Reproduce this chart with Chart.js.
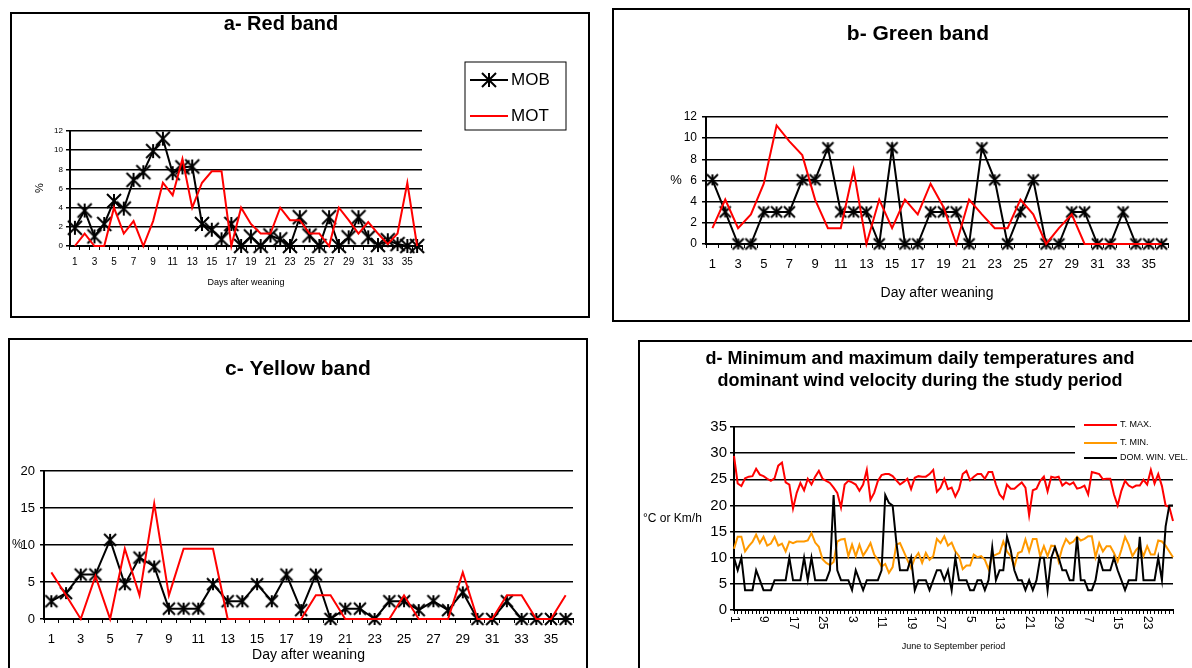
<!DOCTYPE html>
<html lang="en">
<head>
<meta charset="UTF-8" />
<title>Weaning bands and temperatures</title>
<style>
  body {
    margin: 0;
    background: #fff;
    width: 1192px;
    height: 668px;
    overflow: hidden;
    position: relative;
  }
  .panel {
    position: absolute;
    border: 2px solid #000;
    background: #fff;
    overflow: hidden;
  }
  .panel canvas {
    position: absolute;
    left: 0;
    top: 0;
  }
</style>
</head>
<body>
  <div class="panel" style="left:10px;top:12px;width:576px;height:302px"><canvas id="chartA" width="576" height="302"></canvas></div>
  <div class="panel" style="left:612px;top:8px;width:574px;height:310px"><canvas id="chartB" width="574" height="310"></canvas></div>
  <div class="panel" style="left:8px;top:338px;width:576px;height:340px"><canvas id="chartC" width="576" height="330"></canvas></div>
  <div class="panel" style="left:638px;top:340px;width:560px;height:340px"><canvas id="chartD" width="552" height="326"></canvas></div>

  <script src="https://cdn.jsdelivr.net/npm/chart.js"></script>
  <script>
    // days after weaning (panels a-c)
    const days = Array.from({ length: 36 }, (_, i) => String(i + 1));

    const mobRed = [1.9, 3.7, 1.0, 2.3, 4.7, 3.9, 6.9, 7.7, 9.9, 11.2, 7.6, 8.2, 8.3, 2.3, 1.7, 0.7, 2.3, 0, 1.0, 0,
                    1.1, 0.7, 0, 3.0, 1.1, 0, 3.0, 0, 0.9, 3.0, 0.9, 0.1, 0.6, 0.2, 0, 0];
    const motRed = [0, 1.3, 0, 0, 4.0, 1.3, 2.6, 0, 2.6, 6.6, 5.3, 9.1, 4.0, 6.6, 7.8, 7.8, 0, 4.0, 2.3, 1.3,
                    1.3, 4.0, 2.7, 2.7, 1.3, 1.3, 0, 4.0, 2.7, 1.3, 2.5, 1.3, 0.2, 1.3, 6.6, 0];

    const mobGreen = [6.06, 3.03, 0, 0, 3.03, 3.03, 3.03, 6.06, 6.06, 9.09, 3.03, 3.03, 3.03, 0, 9.09, 0, 0, 3.03,
                      3.03, 3.03, 0, 9.09, 6.06, 0, 3.03, 6.06, 0, 0, 3.03, 3.03, 0, 0, 3.03, 0, 0, 0];
    const motGreen = [1.5, 4.2, 1.5, 2.8, 5.7, 11.2, 9.7, 8.4, 4.2, 1.5, 1.5, 7.0, 0, 4.2, 1.5, 4.2, 2.8, 5.7,
                      3.5, 0, 4.2, 2.8, 1.5, 1.5, 4.2, 2.8, 0, 1.5, 2.8, 0, 0, 0, 0, 0, 0, 0];

    const mobYellow = [2.4, 3.5, 6.0, 6.0, 10.7, 4.7, 8.3, 7.1, 1.4, 1.4, 1.4, 4.7, 2.4, 2.4, 4.7, 2.4, 6.0, 1.2,
                       6.0, 0, 1.4, 1.4, 0, 2.4, 2.4, 1.2, 2.4, 1.2, 3.6, 0, 0, 2.4, 0, 0, 0, 0];
    const motYellow = [6.3, 3.2, 0, 5.8, 0, 9.5, 3.2, 15.6, 3.2, 9.5, 9.5, 9.5, 0, 0, 0, 0, 0, 0,
                       3.2, 3.2, 0, 0, 0, 0, 3.2, 0, 0, 0, 6.3, 0, 0, 3.2, 3.2, 0, 0, 3.2];

    // June to September, 30 records per month as numbered on the original axis (panel d)
    const monthLengths = [30, 30, 30, 30];
    const seasonDays = [];
    monthLengths.forEach(n => { for (let d = 1; d <= n; d++) seasonDays.push(String(d)); });

    const tMax = [
      29.5, 24.2, 23.7, 25.2, 25.5, 25.6, 27, 25.9, 25.6, 25.1, 24.7, 25.2, 27.6, 28.2, 24.4, 24, 19.4, 22.4, 24.3, 22.9, 25.1, 24, 25.5, 26.6, 25.1, 24.7, 24.3, 23.4, 22.4, 19.6,
      24, 24.7, 24.4, 24, 22.8, 24, 26.8, 21.1, 22.4, 24.7, 25.8, 26, 26, 25.6, 24.8, 24, 24.5, 25.1, 23.1, 25.3, 25.6, 25.5, 25.5, 26, 26.8, 22.6, 23.4, 25.1, 23.1, 23.4,
      21.7, 23.1, 26, 26.6, 24.8, 25.5, 26, 26, 25.1, 26.4, 26.4, 24, 22.1, 21.3, 24, 23.2, 23.2, 23.8, 24.4, 23.4, 18.1, 22.9, 23.2, 24.7, 25.5, 22.7, 25.5, 25.3, 25.5, 23.8,
      24.4, 24, 24.4, 23.2, 23.4, 23.8, 22.1, 26.4, 26.2, 26, 25, 25.1, 25.1, 22.1, 20, 22.8, 24.7, 23.8, 23.4, 23.8, 23.8, 24.9, 24, 26.8, 24.2, 26, 23.7, 20, 19.7, 17
    ];
    const tMin = [
      11.7, 14, 14, 11.2, 12.2, 13, 14.4, 12.8, 14, 12.3, 12.7, 14, 12.3, 12.7, 11.2, 13.1, 12.8, 13.1, 13.1, 13.1, 13.3, 14.7, 12.9, 12.1, 9.7, 9, 8.6, 9.2, 13.1, 13.5,
      13.6, 10.3, 12.5, 10.3, 12.5, 10.4, 11.5, 12.8, 10.6, 9.6, 8.3, 8.8, 7.1, 8.2, 12.5, 12.8, 11.2, 9.6, 8, 9.9, 10.9, 9, 10.9, 9.6, 10.3, 13.6, 12.8, 14.1, 12.3, 12.9,
      11.2, 10.3, 7.8, 8.5, 8.5, 10.6, 10.1, 10.3, 9.6, 7.8, 10.3, 10.6, 10.9, 13.1, 11.2, 10.3, 8.3, 10.9, 11.2, 13.5, 11.2, 13.6, 13.6, 10.3, 12.2, 10.3, 12.3, 12.2, 9.3, 11.9,
      13.6, 12.7, 13.1, 14, 13.3, 13.6, 14.1, 14.1, 10.1, 12.8, 11.2, 12.2, 12.2, 10.9, 9.3, 11.5, 14, 12.5, 10.3, 11.5, 12.2, 10.3, 12.2, 10.6, 10.6, 13.3, 13.1, 12.3, 11.2, 10.1
    ];
    const windVel = [
      10, 7.6, 10, 3.8, 3.8, 3.8, 7.6, 5.7, 3.8, 3.8, 3.8, 5.7, 5.7, 5.7, 5.7, 10, 5.7, 5.7, 5.7, 10, 5.7, 10, 5.7, 5.7, 5.7, 5.7, 7.6, 22, 7.6, 5.7,
      5.7, 5.7, 3.8, 7.6, 5.7, 3.8, 5.7, 5.7, 5.7, 5.7, 7.6, 22, 20.5, 20, 13, 7.6, 7.6, 7.6, 10, 3.8, 5.7, 5.7, 5.7, 3.8, 5.7, 7.6, 7.6, 5.7, 7.6, 3.8,
      10, 5.7, 5.7, 5.7, 3.8, 3.8, 5.7, 5.7, 3.8, 5.7, 12, 5.7, 7.6, 7.6, 14, 11.5, 7.6, 5.7, 5.7, 3.8, 5.7, 3.8, 5.7, 10, 10, 3.8, 10, 12, 10, 7.6,
      7.6, 5.7, 5.7, 14, 5.7, 5.7, 3.8, 3.8, 5.7, 10, 7.6, 7.6, 7.6, 10, 7.6, 5.7, 3.8, 5.7, 5.7, 5.7, 14, 5.7, 5.7, 5.7, 5.7, 10, 5.7, 16, 20, 20
    ];

    const FONT = "'Liberation Sans', Arial, sans-serif";
    Chart.defaults.font.family = FONT;
    Chart.defaults.color = '#000';
    Chart.defaults.animation = false;
    Chart.defaults.events = [];
    Chart.defaults.plugins.legend.display = false;
    Chart.defaults.plugins.tooltip.enabled = false;

    // asterisk marker (X plus vertical bar)
    function starMarker(size, lw) {
      const c = document.createElement('canvas');
      c.width = c.height = size + lw * 2;
      const g = c.getContext('2d');
      const m = c.width / 2, r = size / 2;
      g.strokeStyle = '#000';
      g.lineWidth = lw;
      g.beginPath();
      g.moveTo(m - r, m - r); g.lineTo(m + r, m + r);
      g.moveTo(m - r, m + r); g.lineTo(m + r, m - r);
      g.moveTo(m, m - r); g.lineTo(m, m + r);
      g.stroke();
      return c;
    }

    function drawText(ctx, t) {
      ctx.save();
      ctx.translate(t.x, t.y);
      if (t.rot) ctx.rotate(t.rot);
      ctx.font = t.font;
      ctx.fillStyle = '#000';
      ctx.textAlign = t.align || 'center';
      ctx.textBaseline = 'middle';
      ctx.fillText(t.text, 0, 0);
      ctx.restore();
    }

    // titles, free labels and legends drawn after the chart
    function decor(cfg) {
      return {
        id: 'decor',
        afterDraw(chart) {
          const ctx = chart.ctx;
          (cfg.texts || []).forEach(t => drawText(ctx, t));
          const lg = cfg.legend;
          if (lg) {
            ctx.save();
            if (lg.clear) { ctx.fillStyle = '#fff'; ctx.fillRect(lg.clear[0], lg.clear[1], lg.clear[2], lg.clear[3]); }
            if (lg.box) { ctx.strokeStyle = '#000'; ctx.lineWidth = 1; ctx.strokeRect(lg.box[0], lg.box[1], lg.box[2], lg.box[3]); }
            lg.rows.forEach((y, k) => {
              const ds = chart.data.datasets[lg.order[k]];
              ctx.strokeStyle = ds.borderColor;
              ctx.lineWidth = ds.borderWidth;
              ctx.beginPath(); ctx.moveTo(lg.x0, y); ctx.lineTo(lg.x1, y); ctx.stroke();
              if (ds.pointRadius && ds.pointStyle instanceof HTMLCanvasElement) {
                const img = ds.pointStyle;
                ctx.drawImage(img, (lg.x0 + lg.x1) / 2 - img.width / 2, y - img.height / 2);
              }
              drawText(ctx, { text: ds.label, x: lg.tx, y: y, font: lg.font, align: 'left' });
            });
            ctx.restore();
          }
          if (cfg.dateTicks) {
            const xs = chart.scales.x;
            seasonDays.forEach((d, i) => {
              if (i % 8) return;
              drawText(ctx, { text: d, x: xs.getPixelForTick(i), y: xs.top + cfg.dateTicks.gap, font: cfg.dateTicks.font, align: 'left', rot: Math.PI / 2 });
            });
          }
        }
      };
    }

    function bandChart(id, p) {
      return new Chart(document.getElementById(id), {
        type: 'line',
        data: {
          labels: days,
          datasets: [
            { label: 'MOB', data: p.mob, borderColor: '#000', borderWidth: 2, pointStyle: starMarker(p.marker, 2),
              pointRadius: p.marker / 2, clip: false, order: 1 },
            { label: 'MOT', data: p.mot, borderColor: '#ff0000', borderWidth: 2, pointRadius: 0, clip: false, order: 0 }
          ]
        },
        options: {
          responsive: false,
          layout: { padding: p.pad },
          elements: { line: { tension: 0 } },
          scales: {
            x: {
              type: 'category',
              offset: true,
              grid: { drawOnChartArea: false, drawTicks: true, tickLength: 4, color: '#000', lineWidth: 1, offset: true },
              border: { color: '#000', width: 2 },
              ticks: { autoSkip: false, maxRotation: 0, minRotation: 0, padding: p.xPad, font: { size: p.xFont },
                       callback: (v, i) => (i % 2 ? '' : days[i]) },
              title: { display: true, text: p.xTitle, font: { size: p.xTitleFont }, padding: { top: 0, bottom: p.xTitlePad } },
              afterFit: s => { s.height = p.xHeight; }
            },
            y: {
              min: 0,
              max: p.yMax,
              ticks: { stepSize: p.yStep, padding: p.yPad, font: { size: p.yFont } },
              grid: { color: '#000', lineWidth: 1.5, tickLength: 4 },
              border: { color: '#000', width: 2 },
              afterFit: s => { s.width = p.yWidth; }
            }
          }
        },
        plugins: [decor(p.decor)]
      });
    }

    bandChart('chartA', {
      mob: mobRed, mot: motRed, marker: 14,
      pad: { left: 28, right: 166, top: 117, bottom: 10 },
      xPad: 6, xFont: 10, xTitle: 'Days after weaning', xTitleFont: 9, xTitlePad: 18, xHeight: 60,
      yMax: 12, yStep: 2, yPad: 3, yFont: 8, yWidth: 30,
      decor: {
        texts: [
          { text: 'a- Red band', x: 269, y: 10, font: 'bold 20px ' + FONT },
          { text: '%', x: 28, y: 174, font: '11px ' + FONT, rot: -Math.PI / 2 }
        ],
        legend: { box: [453, 48, 101, 68], rows: [66, 102], order: [0, 1], x0: 458, x1: 496, tx: 499, font: '17px ' + FONT }
      }
    });

    bandChart('chartB', {
      mob: mobGreen, mot: motGreen, marker: 11,
      pad: { left: 52, right: 20, top: 107, bottom: 10 },
      xPad: 9, xFont: 13, xTitle: 'Day after weaning', xTitleFont: 14, xTitlePad: 8, xHeight: 66,
      yMax: 12, yStep: 2, yPad: 5, yFont: 12, yWidth: 40,
      decor: {
        texts: [
          { text: 'b- Green band', x: 304, y: 24, font: 'bold 21px ' + FONT },
          { text: '%', x: 62, y: 170, font: '13px ' + FONT }
        ]
      }
    });

    bandChart('chartC', {
      mob: mobYellow, mot: motYellow, marker: 12,
      pad: { left: 8, right: 13, top: 131, bottom: 6 },
      xPad: 9, xFont: 13, xTitle: 'Day after weaning', xTitleFont: 14, xTitlePad: 0, xHeight: 45,
      yMax: 20, yStep: 5, yPad: 5, yFont: 13, yWidth: 26,
      decor: {
        texts: [
          { text: 'c- Yellow band', x: 288, y: 29, font: 'bold 21px ' + FONT },
          { text: '%', x: 2, y: 205, font: '12px ' + FONT, align: 'left' }
        ]
      }
    });

    new Chart(document.getElementById('chartD'), {
      type: 'line',
      data: {
        labels: seasonDays,
        datasets: [
          { label: 'T. MAX.', data: tMax, borderColor: '#ff0000', borderWidth: 2, pointRadius: 0, order: 2 },
          { label: 'T. MIN.', data: tMin, borderColor: '#ff9900', borderWidth: 2, pointRadius: 0, order: 1 },
          { label: 'DOM. WIN. VEL.', data: windVel, borderColor: '#000', borderWidth: 2, pointRadius: 0, order: 0 }
        ]
      },
      options: {
        responsive: false,
        layout: { padding: { left: 58, right: 19, top: 85, bottom: 10 } },
        elements: { line: { tension: 0 } },
        scales: {
          x: {
            type: 'category',
            offset: false,
            grid: { drawOnChartArea: false, drawTicks: true, tickLength: 4, color: '#000', lineWidth: 1 },
            border: { color: '#000', width: 2 },
            ticks: { display: false, autoSkip: false },
            title: { display: true, text: 'June to September period', font: { size: 9 }, padding: { top: 0, bottom: 6 } },
            afterFit: s => { s.height = 48; }
          },
          y: {
            min: 0,
            max: 35,
            ticks: { stepSize: 5, padding: 3, font: { size: 15 } },
            grid: { color: '#000', lineWidth: 1.5, tickLength: 4 },
            border: { color: '#000', width: 2 },
            afterFit: s => { s.width = 36; }
          }
        }
      },
      plugins: [decor({
        texts: [
          { text: 'd- Minimum and maximum daily temperatures and', x: 280, y: 17, font: 'bold 18px ' + FONT },
          { text: 'dominant wind velocity during the study period', x: 280, y: 39, font: 'bold 18px ' + FONT },
          { text: '\u00b0C or Km/h', x: 3, y: 177, font: '12px ' + FONT, align: 'left' }
        ],
        legend: { clear: [435, 76, 98, 48], rows: [83, 101, 116], order: [0, 1, 2], x0: 444, x1: 477, tx: 480, font: '9px ' + FONT },
        dateTicks: { gap: 6, font: '12px ' + FONT }
      })]
    });
  </script>
</body>
</html>
